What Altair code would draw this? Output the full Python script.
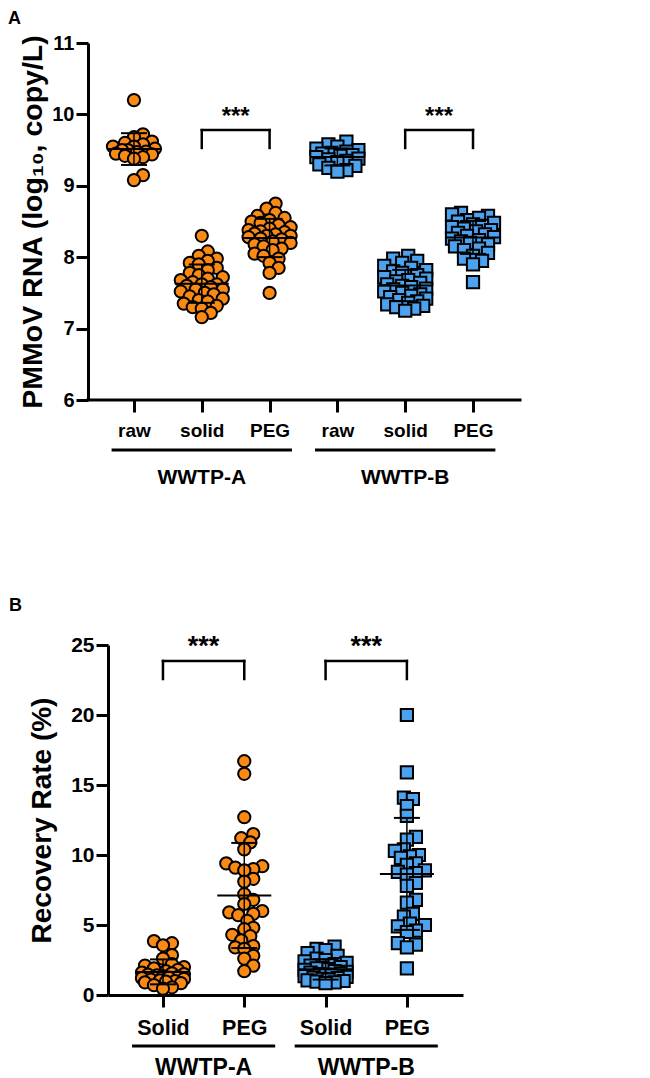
import json
import altair as alt
import numpy as np
import pandas as pd

FONT = "Liberation Sans"
ORANGE = "#FA8A14"
BLUE = "#4DA2EF"

# ---------------- Panel A data (log10 copy/L) ----------------
a_cats = ["raw", "solid", "PEG", "raw", "solid", "PEG"]
a_plants = ["WWTP-A", "WWTP-A", "WWTP-A", "WWTP-B", "WWTP-B", "WWTP-B"]
a_raw_A = [10.20, 9.72, 9.68, 9.62, 9.60, 9.58, 9.55, 9.55, 9.52, 9.50, 9.50,
           9.48, 9.47, 9.45, 9.44, 9.42, 9.40, 9.38, 9.15, 9.08]
a_solid_A = [8.30, 8.08, 8.02, 7.98, 7.95, 7.92, 7.90, 7.85, 7.82, 7.78, 7.75,
             7.72, 7.70, 7.68, 7.65, 7.62, 7.62, 7.60, 7.58, 7.55, 7.55, 7.52,
             7.50, 7.48, 7.45, 7.42, 7.40, 7.38, 7.35, 7.32, 7.30, 7.28, 7.22, 7.16]
a_peg_A = [8.75, 8.68, 8.62, 8.58, 8.55, 8.52, 8.50, 8.48, 8.45, 8.42, 8.40,
           8.38, 8.36, 8.35, 8.33, 8.32, 8.30, 8.30, 8.28, 8.26, 8.25, 8.22,
           8.20, 8.18, 8.15, 8.12, 8.10, 8.05, 8.02, 7.98, 7.92, 7.85, 7.78, 7.50]
a_raw_B = [9.62, 9.58, 9.55, 9.52, 9.50, 9.48, 9.46, 9.45, 9.43, 9.42, 9.40,
           9.38, 9.37, 9.35, 9.33, 9.30, 9.28, 9.25, 9.22, 9.20]
a_solid_B = [8.02, 7.98, 7.95, 7.92, 7.88, 7.85, 7.82, 7.80, 7.78, 7.75, 7.72,
             7.70, 7.68, 7.66, 7.64, 7.62, 7.60, 7.58, 7.56, 7.55, 7.52, 7.50,
             7.48, 7.46, 7.44, 7.42, 7.40, 7.38, 7.36, 7.34, 7.32, 7.30, 7.28, 7.25]
a_peg_B = [8.62, 8.60, 8.58, 8.55, 8.52, 8.50, 8.48, 8.46, 8.44, 8.42, 8.40,
           8.38, 8.36, 8.34, 8.32, 8.30, 8.28, 8.26, 8.24, 8.22, 8.20, 8.18,
           8.15, 8.12, 8.10, 8.06, 8.02, 7.98, 7.95, 7.90, 7.65]
a_values = [a_raw_A, a_solid_A, a_peg_A, a_raw_B, a_solid_B, a_peg_B]
a_sig_pairs = [(1, 2), (4, 5)]
a_sig_text = ["***", "***"]
a_groups = ["WWTP-A", "WWTP-B"]
a_group_centers = [1, 4]

# ---------------- Panel B data (recovery %) ----------------
b_cats = ["Solid", "PEG", "Solid", "PEG"]
b_plants = ["WWTP-A", "WWTP-A", "WWTP-B", "WWTP-B"]
b_solid_A = [3.85, 3.70, 3.55, 2.85, 2.60, 2.20, 2.10, 2.00, 1.90, 1.80, 1.70,
             1.60, 1.55, 1.50, 1.45, 1.40, 1.35, 1.30, 1.25, 1.20, 1.15, 1.10,
             1.05, 1.00, 0.95, 0.90, 0.85, 0.70, 0.55, 0.45]
b_peg_A = [16.7, 15.8, 12.7, 11.5, 11.2, 10.9, 10.4, 9.4, 9.2, 9.1, 9.0, 8.9,
           8.3, 8.1, 7.2, 6.8, 6.5, 6.0, 5.9, 5.8, 5.7, 5.3, 4.8, 4.7, 4.3, 4.2,
           3.9, 3.5, 3.4, 3.3, 2.8, 2.6, 2.1, 1.7]
b_solid_B = [3.45, 3.30, 3.20, 3.00, 2.80, 2.60, 2.50, 2.40, 2.30, 2.20, 2.10,
             2.00, 1.95, 1.90, 1.85, 1.80, 1.70, 1.65, 1.60, 1.55, 1.50, 1.45,
             1.40, 1.35, 1.30, 1.25, 1.20, 1.15, 1.10, 1.05, 1.00, 0.95, 0.90, 0.85]
b_peg_B = [20.0, 15.9, 14.1, 14.0, 13.5, 12.8, 11.3, 11.1, 10.4, 10.3, 10.0,
           9.9, 9.8, 9.4, 9.3, 8.9, 8.8, 8.7, 8.6, 8.0, 7.8, 6.8, 6.6, 5.8, 5.6,
           5.1, 5.0, 4.9, 4.6, 4.5, 3.7, 3.6, 3.4, 1.9]
b_values = [b_solid_A, b_peg_A, b_solid_B, b_peg_B]
b_sig_pairs = [(0, 1), (2, 3)]
b_sig_text = ["***", "***"]
b_groups = ["WWTP-A", "WWTP-B"]
b_group_centers = [0.5, 2.5]


def swarm(vals, ppu, dmin, step, maxoff):
    """Beeswarm layout in pixel space; returns horizontal offsets in px."""
    vals = list(vals)
    order = np.argsort(vals, kind="stable")
    cands = [0.0]
    k = 1
    while k * step <= maxoff:
        cands += [k * step, -k * step]
        k += 1
    placed = []
    offs = [0.0] * len(vals)
    for i in order:
        y = vals[i] * ppu
        best_c, best_d = 0.0, -1.0
        for c in cands:
            d = min([np.hypot(c - px, y - py) for py, px in placed] or [1e9])
            if d >= dmin:
                best_c = c
                break
            if d > best_d:
                best_d, best_c = d, c
        placed.append((y, best_c))
        offs[i] = best_c
    return offs


def axis_common(**kw):
    base = dict(domainColor="black", domainWidth=3, tickColor="black", tickWidth=3,
                tickSize=12, labelColor="black", labelFont=FONT, labelFontWeight="bold",
                titleColor="black", titleFont=FONT, titleFontWeight="bold", grid=False)
    base.update(kw)
    return alt.Axis(**base)


def make_panel(letter, cats, plants, values, sig_pairs, sig_text, groups, group_centers,
               W, H, xdom, ydom, yvals, ytitle, yaxis_kw, xaxis_kw, star_top, star_bot,
               star_y, star_size, line_y, glabel_y, glabel_size, underline_half,
               letter_xy, yaxis_offset):
    ppc = W / (xdom[1] - xdom[0])
    ppu = H / (ydom[1] - ydom[0])

    rows = []
    for i, (vals, pl) in enumerate(zip(values, plants)):
        offs = swarm(vals, ppu, 8.5, 3.0, 21.0)
        for v, o in zip(vals, offs):
            rows.append({"idx": i, "plant": pl, "value": v, "xpos": i + o / ppc})
    pts = pd.DataFrame(rows)

    stats = pts.groupby("idx")["value"].agg(["mean", "std"]).reset_index()
    stats["lo"] = stats["mean"] - stats["std"]
    stats["hi"] = stats["mean"] + stats["std"]
    stats["m1"] = stats["idx"] - 27 / ppc
    stats["m2"] = stats["idx"] + 27 / ppc
    stats["c1"] = stats["idx"] - 13 / ppc
    stats["c2"] = stats["idx"] + 13 / ppc

    sig = pd.DataFrame({
        "x1": [p[0] for p in sig_pairs],
        "x2": [p[1] for p in sig_pairs],
        "xm": [(p[0] + p[1]) / 2 for p in sig_pairs],
        "top": [star_top] * len(sig_pairs),
        "bot": [star_bot] * len(sig_pairs),
        "sy": [star_y] * len(sig_pairs),
        "txt": sig_text,
    })
    grp = pd.DataFrame({
        "label": groups,
        "c": group_centers,
        "s": [c - underline_half for c in group_centers],
        "e": [c + underline_half for c in group_centers],
    })

    label_expr = "%s[datum.value]" % json.dumps(cats)
    xaxis = axis_common(values=list(range(len(cats))), labelExpr=label_expr, title=None,
                        **xaxis_kw)
    yaxis = axis_common(values=yvals, format="d", title=ytitle, offset=yaxis_offset,
                        **yaxis_kw)

    def X(f):
        return alt.X(f, type="quantitative", scale=alt.Scale(domain=xdom, nice=False, zero=False),
                     axis=xaxis)

    def Y(f):
        return alt.Y(f, type="quantitative", scale=alt.Scale(domain=ydom, nice=False, zero=False),
                     axis=yaxis)

    points = alt.Chart(pts).mark_point(filled=True, opacity=1, stroke="black",
                                       strokeWidth=2, size=150).encode(
        x=X("xpos"), y=Y("value"),
        fill=alt.Fill("plant:N", scale=alt.Scale(domain=["WWTP-A", "WWTP-B"],
                                                 range=[ORANGE, BLUE]), legend=None),
        shape=alt.Shape("plant:N", scale=alt.Scale(domain=["WWTP-A", "WWTP-B"],
                                                   range=["circle", "square"]), legend=None),
    )
    eb = alt.Chart(stats)
    mean_line = eb.mark_rule(color="black", strokeWidth=2).encode(x=X("m1"), x2="m2", y=Y("mean"))
    sd_line = eb.mark_rule(color="black", strokeWidth=1.5).encode(x=X("idx"), y=Y("lo"), y2="hi")
    cap_lo = eb.mark_rule(color="black", strokeWidth=2).encode(x=X("c1"), x2="c2", y=Y("lo"))
    cap_hi = eb.mark_rule(color="black", strokeWidth=2).encode(x=X("c1"), x2="c2", y=Y("hi"))

    sc = alt.Chart(sig)
    br_h = sc.mark_rule(color="black", strokeWidth=2.5, strokeCap="square").encode(
        x=X("x1"), x2="x2", y=Y("top"))
    br_l = sc.mark_rule(color="black", strokeWidth=2.5, strokeCap="square").encode(
        x=X("x1"), y=Y("bot"), y2="top")
    br_r = sc.mark_rule(color="black", strokeWidth=2.5, strokeCap="square").encode(
        x=X("x2"), y=Y("bot"), y2="top")
    stars = sc.mark_text(font=FONT, fontSize=star_size, fontWeight="bold", color="black",
                         baseline="alphabetic", align="center").encode(
        x=X("xm"), y=Y("sy"), text="txt:N")

    gc = alt.Chart(grp)
    underline = gc.mark_rule(color="black", strokeWidth=3).encode(
        x=X("s"), x2="e", y=alt.value(H + line_y))
    glabels = gc.mark_text(font=FONT, fontSize=glabel_size, fontWeight="bold", color="black",
                           baseline="middle", align="center").encode(
        x=X("c"), text="label:N", y=alt.value(H + glabel_y))

    letter_layer = alt.Chart(pd.DataFrame({"t": [letter]})).mark_text(
        font=FONT, fontSize=18, fontWeight="bold", color="black", align="left",
        baseline="middle").encode(text="t:N", x=alt.value(letter_xy[0]), y=alt.value(letter_xy[1]))

    layers = [points, mean_line, sd_line, cap_lo, cap_hi, br_h, br_l, br_r, stars,
              underline, glabels, letter_layer]
    if yaxis_offset:
        baseline = alt.Chart(pd.DataFrame({"a": [0]})).mark_rule(
            color="black", strokeWidth=3, strokeCap="square").encode(
            x=alt.value(-yaxis_offset), x2=alt.value(W), y=alt.value(H))
        layers.append(baseline)
    return alt.layer(*layers).properties(width=W, height=H)


chartA = make_panel(
    "A", a_cats, a_plants, a_values, a_sig_pairs, a_sig_text, a_groups, a_group_centers,
    W=412, H=357, xdom=[-0.383, 5.693], ydom=[6, 11], yvals=[6, 7, 8, 9, 10, 11],
    ytitle="PMMoV RNA (log₁₀, copy/L)",
    yaxis_kw=dict(labelFontSize=20, labelPadding=2, titleFontSize=28.5, titlePadding=4),
    xaxis_kw=dict(domain=False, labelFontSize=19, labelPadding=9),
    star_top=9.78, star_bot=9.53, star_y=9.86, star_size=24,
    line_y=50, glabel_y=78, glabel_size=21, underline_half=1.33,
    letter_xy=(-100, -24), yaxis_offset=20)

chartB = make_panel(
    "B", b_cats, b_plants, b_values, b_sig_pairs, b_sig_text, b_groups, b_group_centers,
    W=355, H=350, xdom=[-0.676, 3.69], ydom=[0, 25], yvals=[0, 5, 10, 15, 20, 25],
    ytitle="Recovery Rate (%)",
    yaxis_kw=dict(labelFontSize=21, labelPadding=2, titleFontSize=28, titlePadding=14),
    xaxis_kw=dict(labelFontSize=21.5, labelPadding=10),
    star_top=23.86, star_bot=22.57, star_y=24.3, star_size=27,
    line_y=51, glabel_y=73, glabel_size=23, underline_half=0.88,
    letter_xy=(-99, -39), yaxis_offset=0)

chart = alt.vconcat(chartA, chartB, spacing=109).properties(
    padding={"left": 0, "top": 2, "right": 5, "bottom": 0},
    background="white",
).configure_view(stroke="transparent", strokeWidth=0)

chart.save("out.html", embed_options={"renderer": "svg", "actions": False})
